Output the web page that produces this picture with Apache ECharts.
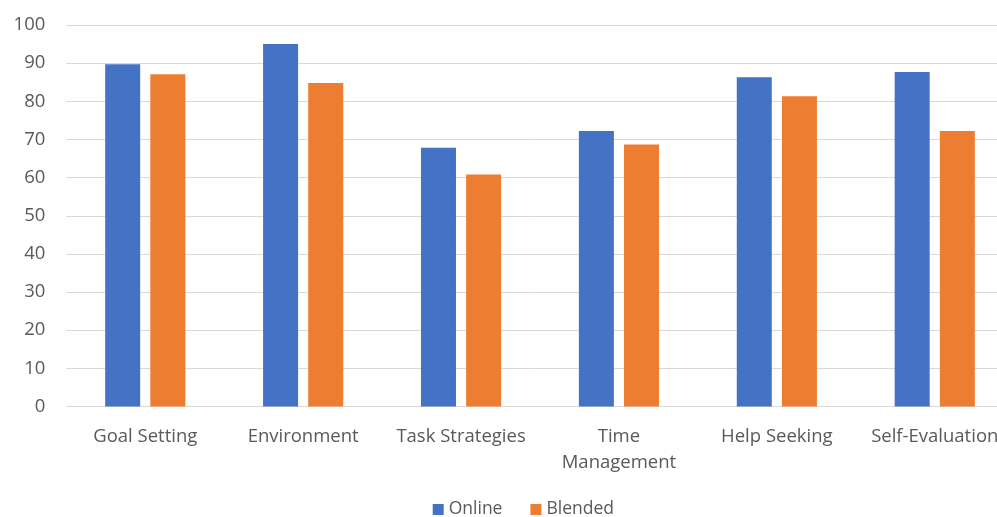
<!DOCTYPE html>
<html>
<head>
<meta charset="utf-8">
<script src="https://cdn.jsdelivr.net/npm/echarts@6/dist/echarts.min.js"></script>
<style>
html,body{margin:0;padding:0;background:#fff;overflow:hidden;}
#chart{width:997px;height:517px;}
</style>
</head>
<body>
<div id="chart"></div>
<script>
const categories = ['Goal Setting', 'Environment', 'Task Strategies', 'Time Management', 'Help Seeking', 'Self-Evaluation'];
const onlineValues = [89.7, 95.0, 67.8, 72.2, 86.3, 87.7];
const blendedValues = [87.1, 84.8, 60.8, 68.7, 81.3, 72.2];
const yTicks = { min: 0, max: 100, interval: 10 };

const chart = echarts.init(document.getElementById('chart'), null, { renderer: 'canvas' });
const FONT = '"Open Sans"';
chart.setOption({
  animation: false,
  backgroundColor: '#ffffff',
  color: ['#4472C4', '#ED7D31'],
  grid: { left: 66.3, right: -16.7, top: 25, bottom: 110.5, containLabel: false, outerBoundsMode: 'none' },
  legend: {
    data: ['Online', 'Blended'],
    left: 427.7, top: 495.5,
    itemWidth: 11, itemHeight: 11, itemGap: 28,
    icon: 'rect',
    textStyle: { color: '#595959', fontSize: 17.5, fontFamily: FONT }
  },
  xAxis: {
    type: 'category',
    data: categories,
    axisLine: { lineStyle: { color: '#d9d9d9', width: 1 } },
    axisTick: { show: false },
    axisLabel: {
      interval: 0, color: '#595959', fontSize: 18.5, fontFamily: FONT, margin: 17.5,
      lineHeight: 26, hideOverlap: false,
      formatter: function (v) { return v === 'Time Management' ? 'Time\nManagement' : v; }
    }
  },
  yAxis: {
    type: 'value',
    min: yTicks.min, max: yTicks.max, interval: yTicks.interval,
    axisLine: { show: false },
    axisTick: { show: false },
    splitLine: { lineStyle: { color: '#d9d9d9', width: 1 } },
    axisLabel: { color: '#595959', fontSize: 18.5, fontFamily: FONT, margin: 21 }
  },
  series: [
    { name: 'Online', type: 'bar', data: onlineValues, barWidth: 35, barGap: '29%' },
    { name: 'Blended', type: 'bar', data: blendedValues, barWidth: 35, barGap: '29%' }
  ]
});
</script>
</body>
</html>
